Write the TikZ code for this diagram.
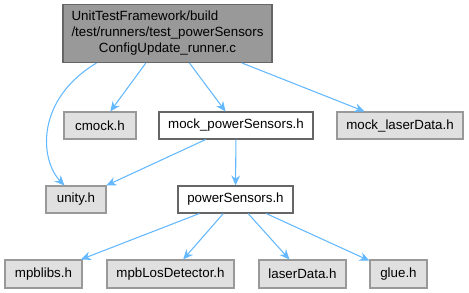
\documentclass[tikz,border=0pt]{standalone}
\usepackage{fontspec}
\setmainfont{Liberation Sans}
\usetikzlibrary{arrows.meta}
\definecolor{edgeblue}{HTML}{63B8FF}
\definecolor{hdrfill}{HTML}{999999}
\definecolor{hdrline}{HTML}{666666}
\definecolor{extfill}{HTML}{E0E0E0}
\definecolor{extline}{HTML}{999999}
\begin{document}
\begin{tikzpicture}[x=0.75pt,y=-0.75pt,
  font=\fontsize{10}{12}\selectfont,
  box/.style={draw, line width=0.8pt, inner sep=0pt, text=black},
  mainfile/.style={box, fill=hdrfill, draw=hdrline},
  localhdr/.style={box, fill=white, draw=hdrline},
  exthdr/.style={box, fill=extfill, draw=extline},
  dep/.style={draw=edgeblue, line width=0.8pt, -{Stealth[length=7.5pt,width=6.5pt]}}]
\useasboundingbox (0,0) rectangle (469,293);

% files
\node[mainfile, minimum width=209*0.75pt, minimum height=58*0.75pt] (runner) at (167.5,33.5)
  {\begin{tabular}{@{}l@{}}UnitTestFramework/build\\/test/runners/test\_powerSensors\\\multicolumn{1}{@{}c@{}}{ConfigUpdate\_runner.c}\end{tabular}};
\node[exthdr, minimum width=72*0.75pt, minimum height=27*0.75pt] (cmock) at (100,125.5) {cmock.h};
\node[localhdr, minimum width=154*0.75pt, minimum height=27*0.75pt] (mockps) at (236,125.5) {mock\_powerSensors.h};
\node[exthdr, minimum width=126*0.75pt, minimum height=27*0.75pt] (mockld) at (400,125.5) {mock\_laserData.h};
\node[exthdr, minimum width=60*0.75pt, minimum height=27*0.75pt] (unity) at (76,199.5) {unity.h};
\node[localhdr, minimum width=115*0.75pt, minimum height=27*0.75pt] (ps) at (235.5,199.5) {powerSensors.h};
\node[exthdr, minimum width=77*0.75pt, minimum height=28*0.75pt] (mpblibs) at (43.5,274) {mpblibs.h};
\node[exthdr, minimum width=127*0.75pt, minimum height=28*0.75pt] (los) at (170.5,274) {mpbLosDetector.h};
\node[exthdr, minimum width=87*0.75pt, minimum height=28*0.75pt] (laser) at (302.5,274) {laserData.h};
\node[exthdr, minimum width=57*0.75pt, minimum height=28*0.75pt] (glue) at (398.5,274) {glue.h};

% include dependencies
\draw[dep] ([xshift=34*0.75pt]runner.south west) .. controls (35,100) and (40,160) .. ([xshift=19*0.75pt]unity.north west);
\draw[dep] (runner) -- (cmock);
\draw[dep] (runner) -- (mockps);
\draw[dep] (runner) -- (mockld);
\draw[dep] (mockps) -- (unity);
\draw[dep] (mockps) -- (ps);
\draw[dep] (ps) -- (mpblibs);
\draw[dep] (ps) -- (los);
\draw[dep] (ps) -- (laser);
\draw[dep] (ps) -- (glue);
\end{tikzpicture}
\end{document}
